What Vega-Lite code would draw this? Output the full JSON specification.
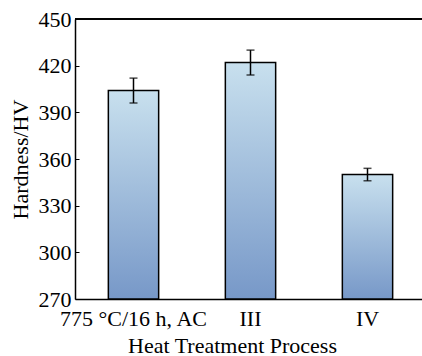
{
  "$schema": "https://vega.github.io/schema/vega-lite/v6.json",
  "autosize": {"type": "none"},
  "padding": {"left": 75, "top": 19, "right": 0, "bottom": 57},
  "width": 347,
  "height": 280,
  "config": {
    "font": "Liberation Serif",
    "view": {"stroke": null},
    "axis": {"labelFont": "Liberation Serif", "titleFont": "Liberation Serif", "labelColor": "#000", "titleColor": "#000", "titleFontWeight": "normal", "labelFontSize": 22, "titleFontSize": 22, "domainColor": "#000", "domainWidth": 1.5, "tickColor": "#000", "grid": false}
  },
  "data": {"values": [
    {"process": "775 °C/16 h, AC", "hv": 404, "lo": 396, "hi": 412},
    {"process": "III", "hv": 422, "lo": 414, "hi": 430},
    {"process": "IV", "hv": 350, "lo": 346, "hi": 354}
  ]},
  "encoding": {
    "x": {"field": "process", "type": "nominal", "sort": null,
      "scale": {"range": [0, 351], "paddingInner": 0.57, "paddingOuter": 0.285},
      "axis": {"title": "Heat Treatment Process", "labelAngle": 0, "ticks": false, "tickSize": 0, "labelPadding": 9, "titleX": 157, "titleY": 53, "titleBaseline": "alphabetic"}}
  },
  "layer": [
    {
      "mark": {"type": "bar", "stroke": "#000", "strokeWidth": 1.5,
        "color": {"gradient": "linear", "x1": 0, "y1": 0, "x2": 0, "y2": 1,
          "stops": [{"offset": 0, "color": "#c8e0ee"}, {"offset": 1, "color": "#7798c8"}]}},
      "encoding": {
        "y": {"field": "hv", "type": "quantitative",
          "scale": {"domain": [270, 450], "nice": false, "zero": false},
          "axis": {"title": "Hardness/HV", "values": [270, 285, 300, 315, 330, 345, 360, 375, 390, 405, 420, 435, 450],
            "labelExpr": "datum.value % 30 === 0 ? datum.label : ''",
            "tickSize": {"condition": {"test": "datum.value % 30 === 0", "value": -4}, "value": -3},
            "tickWidth": 1, "labelPadding": 8, "titlePadding": 6}},
        "y2": {"datum": 270}
      }
    },
    {
      "mark": {"type": "rule", "color": "#000", "strokeWidth": 1.5},
      "encoding": {"y": {"field": "lo", "type": "quantitative"}, "y2": {"field": "hi"}}
    },
    {
      "mark": {"type": "tick", "color": "#000", "thickness": 1.5, "size": 8, "orient": "horizontal"},
      "encoding": {"y": {"field": "lo", "type": "quantitative"}}
    },
    {
      "mark": {"type": "tick", "color": "#000", "thickness": 1.5, "size": 8, "orient": "horizontal"},
      "encoding": {"y": {"field": "hi", "type": "quantitative"}}
    },
    {
      "mark": {"type": "rule", "color": "#000", "strokeWidth": 1.5},
      "encoding": {"y": {"datum": 450}, "x": {"value": 0}, "x2": {"value": 347}}
    }
  ]
}
